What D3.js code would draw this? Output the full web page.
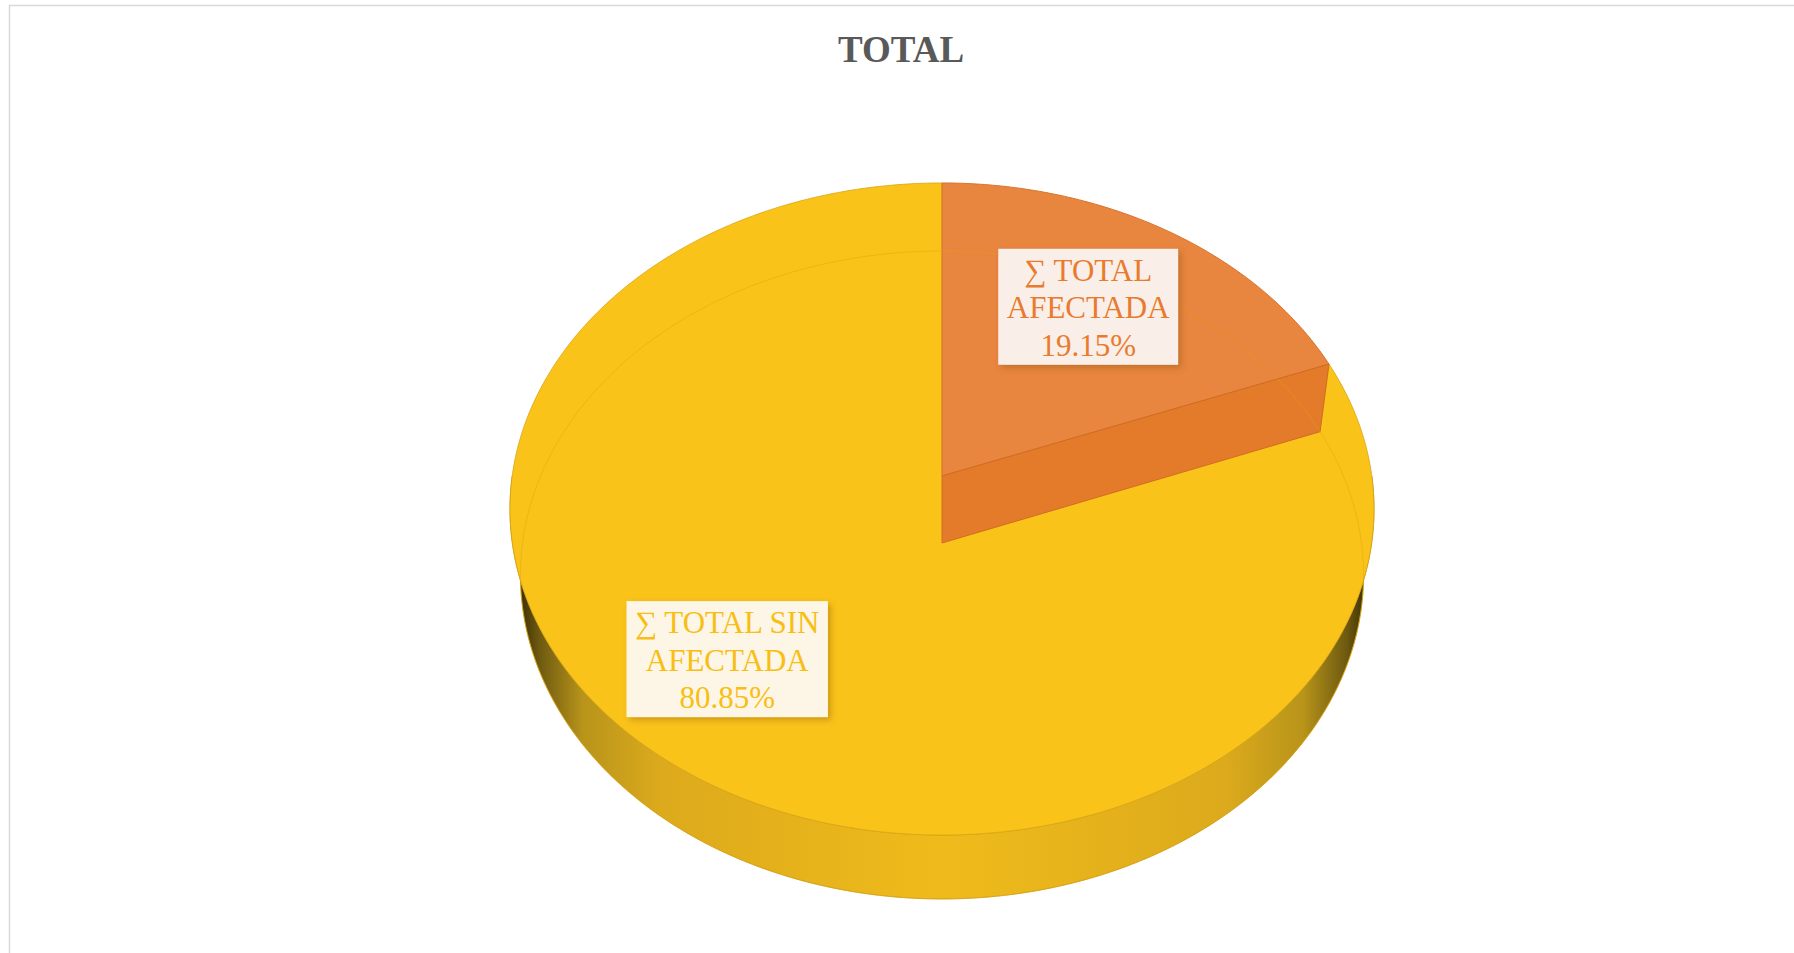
<!DOCTYPE html>
<html>
<head>
<meta charset="utf-8">
<script src="https://cdn.jsdelivr.net/npm/d3@7"></script>
<style>
  html, body { margin: 0; padding: 0; background: #ffffff; }
  svg { display: block; }
</style>
</head>
<body>
<svg id="chart" width="1794" height="953"></svg>
<script>
// ---- data ----
const categories = ["∑ TOTAL AFECTADA", "∑ TOTAL SIN AFECTADA"];
const labelLines = [["∑ TOTAL", "AFECTADA"], ["∑ TOTAL SIN", "AFECTADA"]];
const shares = [19.15, 80.85];
const percentLabels = ["19.15%", "80.85%"];
const chartTitle = "TOTAL";

// ---- styling ----
const topColors = ["#E8853F", "#FAC31A"];
const sideColors = ["#E47B2A", "#EEB91B"];
const textColors = ["#E97B2E", "#F8BE14"];
const boxColors = ["#FAEEE8", "#FDF6E6"];

const W = 1794, H = 953;
const svg = d3.select("#chart");

// Perspective view of the pie: the far half is foreshortened, so the
// projected centre sits above the middle of the outline.
const cx = 942;
const topFace = { cy: 476, A: 322.7, k: 0.1012, B: 429.8 };
const baseFace = { cy: 543, A: 320.8, k: 0.0987, B: 419.5 };
function project(face, rho, theta) {
  const c = Math.cos(theta), s = Math.sin(theta);
  const den = 1 + face.k * rho * c;
  return [cx + face.B * rho * s / den, face.cy - face.A * rho * c / den];
}
function arcPoints(face, a0, a1) {
  const n = Math.max(2, Math.ceil(Math.abs(a1 - a0) / 0.01));
  return d3.range(n + 1).map(i => project(face, 1, a0 + (a1 - a0) * i / n));
}
const line = d3.line().curve(d3.curveLinear);

const pie = d3.pie().sort(null).value(d => d).startAngle(0).endAngle(2 * Math.PI);
const slices = pie(shares);

const defs = svg.append("defs");
const grad = defs.append("linearGradient")
  .attr("id", "wallShade").attr("gradientUnits", "userSpaceOnUse")
  .attr("x1", cx - 428).attr("x2", cx + 430).attr("y1", 0).attr("y2", 0);
[[0, "#2e2400"], [0.03, "#6e5a10"], [0.08, "#b8941a"], [0.17, "#dcaa1c"],
 [0.5, "#efbb1b"], [0.83, "#dcaa1c"], [0.92, "#b8941a"], [0.97, "#6e5a10"], [1, "#2e2400"]]
  .forEach(([o, c]) => grad.append("stop").attr("offset", o).attr("stop-color", c));

const shadow = defs.append("filter").attr("id", "boxShadow")
  .attr("x", "-20%").attr("y", "-20%").attr("width", "140%").attr("height", "140%");
shadow.append("feDropShadow").attr("dx", 3).attr("dy", 3).attr("stdDeviation", 3)
  .attr("flood-color", "#7a4a00").attr("flood-opacity", 0.35);

// chart frame
svg.append("rect").attr("x", 9.5).attr("y", 5.5).attr("width", W + 20).attr("height", H + 20)
  .attr("fill", "none").attr("stroke", "#d9d9d9").attr("stroke-width", 1.5);

// title
svg.append("text").attr("x", 901).attr("y", 62).attr("text-anchor", "middle")
  .attr("font-family", "'Liberation Serif', 'Times New Roman', serif")
  .attr("font-weight", "bold").attr("font-size", 37).attr("fill", "#595959")
  .text(chartTitle);

const g = svg.append("g");

// front wall of the large slice
const wallPts = arcPoints(baseFace, Math.PI / 2, 3 * Math.PI / 2)
  .concat(arcPoints(topFace, 3 * Math.PI / 2, Math.PI / 2));
g.append("path").attr("d", line(wallPts) + "Z")
  .attr("fill", "url(#wallShade)").attr("stroke", "#c99a12").attr("stroke-width", 0.8);

// top face of the large slice
const big = slices[1];
g.append("path")
  .attr("d", line([project(topFace, 0, 0)].concat(arcPoints(topFace, big.startAngle, big.endAngle))) + "Z")
  .attr("fill", topColors[1]).attr("stroke", "#d9a514").attr("stroke-width", 0.8);

// small slice: top face plus its exposed cut face
const small = slices[0];
g.append("path")
  .attr("d", line([project(topFace, 0, 0)].concat(arcPoints(topFace, small.startAngle, small.endAngle))) + "Z")
  .attr("fill", topColors[0]).attr("stroke", "#d8742c").attr("stroke-width", 1);
const cut = [
  project(topFace, 0, small.endAngle),
  project(topFace, 1, small.endAngle),
  project(baseFace, 1, small.endAngle),
  project(baseFace, 0, small.endAngle)
];
g.append("path").attr("d", line(cut) + "Z")
  .attr("fill", sideColors[0]).attr("stroke", "#d06c22").attr("stroke-width", 1);

// base outline showing faintly through the top
g.append("path").attr("d", line(arcPoints(baseFace, 0, 2 * Math.PI)) + "Z")
  .attr("fill", "none").attr("stroke", "#e0a20f").attr("stroke-opacity", 0.45).attr("stroke-width", 1);

// data labels
const labelPlacement = [{ rho: 0.66, shift: -1.5 }, { rho: 0.715, shift: 6.9 }];
const fontSize = 31, lineH = 37.5;
slices.forEach((s, i) => {
  const mid = (s.startAngle + s.endAngle) / 2 + labelPlacement[i].shift * Math.PI / 180;
  const [lx, ly] = project(topFace, labelPlacement[i].rho, mid);
  const lines = labelLines[i].concat([percentLabels[i]]);
  const lg = svg.append("g").attr("class", "label").attr("data-category", categories[i]);
  const box = lg.append("rect").attr("fill", boxColors[i]).attr("filter", "url(#boxShadow)");
  const txt = lg.append("text")
    .attr("font-family", "'Liberation Serif', 'Times New Roman', serif")
    .attr("font-size", fontSize).attr("fill", textColors[i]).attr("text-anchor", "middle");
  const boxH = lines.length * lineH + 3.5;
  const top = ly - boxH / 2;
  lines.forEach((t, j) => {
    txt.append("tspan").attr("x", lx).attr("y", top + 32 + j * lineH).text(t);
  });
  const tw = d3.max(txt.selectAll("tspan").nodes(), n => n.getComputedTextLength());
  const boxW = tw + 17;
  box.attr("x", lx - boxW / 2).attr("y", top).attr("width", boxW).attr("height", boxH);
});
</script>
</body>
</html>
